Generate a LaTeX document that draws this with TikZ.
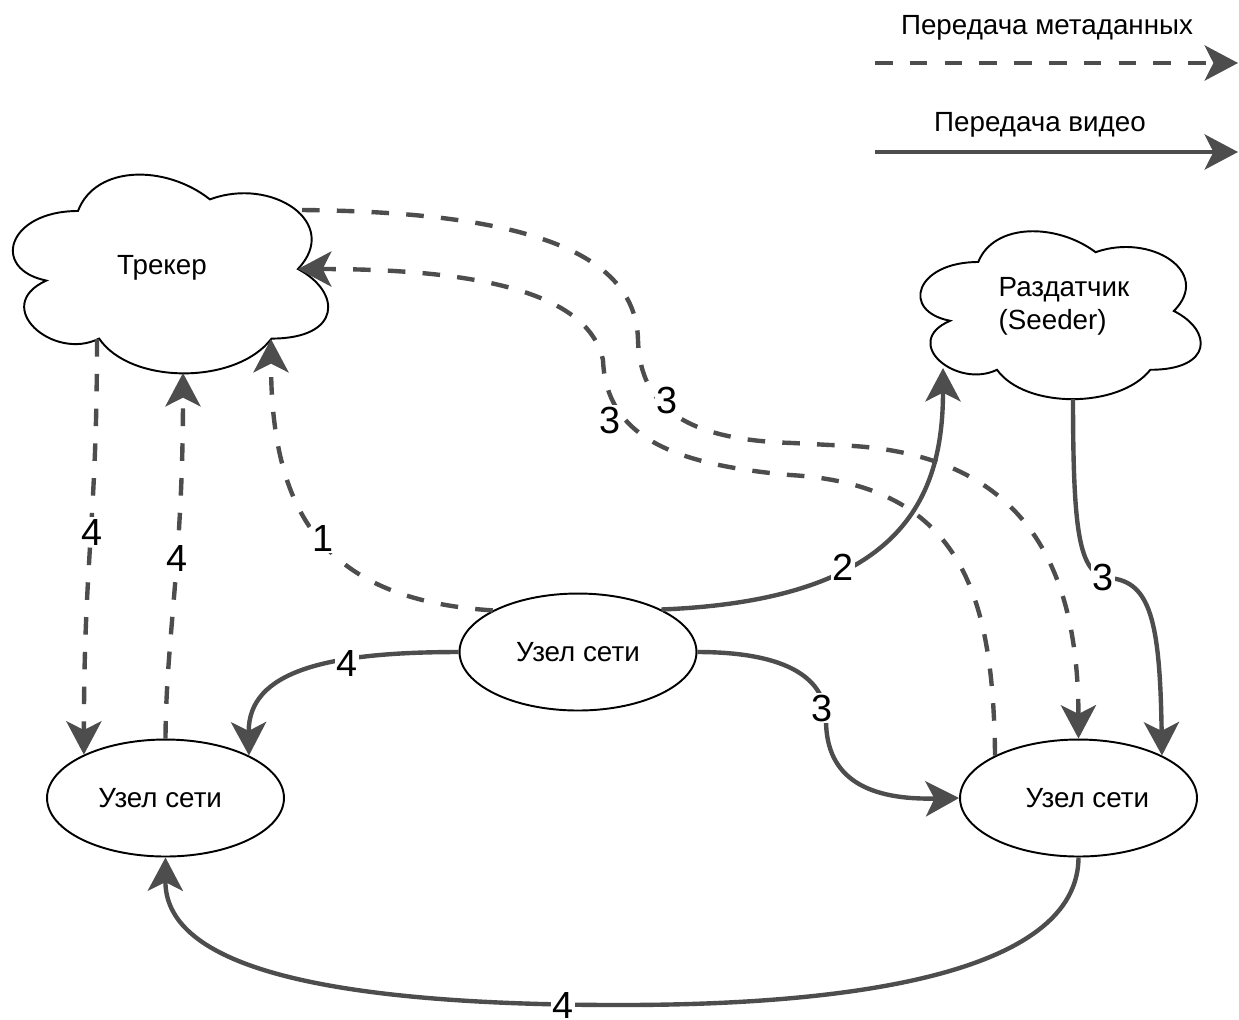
\documentclass[tikz,border=0pt]{standalone}
\usepackage{fontspec}
\setmainfont{Liberation Sans}
\usetikzlibrary{arrows.meta,shapes.geometric}
\definecolor{edgec}{HTML}{4D4D4D}
\begin{document}
\begin{tikzpicture}[x=0.02cm,y=-0.02cm,
  nodeell/.style={ellipse,draw=black,line width=1.1pt,fill=white,minimum width=4.74cm,minimum height=2.34cm,inner sep=0pt,font=\fontsize{15.8}{18.7}\selectfont},
  cloudline/.style={draw=black,line width=1.1pt,fill=white},
  txt/.style={font=\fontsize{15.8}{18.7}\selectfont,inner sep=0pt},
  conn/.style={draw=edgec,line width=2.5pt,-{Stealth[length=19pt,width=20pt,inset=5pt]}},
  meta/.style={conn,dash pattern=on 10pt off 9.8pt},
  video/.style={conn},
  num/.style={fill=white,inner sep=1pt,font=\fontsize{21.5}{25}\selectfont}
]
\fill[white] (0,0) rectangle (1239,1019);
\useasboundingbox (0,0) rectangle (1239,1019);

% legend
\node[txt] (lgm) at (1047,28) {Передача метаданных};
\coordinate (lgmA) at (875,63);
\coordinate (lgmB) at (1238,63);
\draw[meta] (lgmA) -- (lgmB);
\node[txt] (lgv) at (1040,125) {Передача видео};
\coordinate (lgvA) at (875,152);
\coordinate (lgvB) at (1238,152);
\draw[video] (lgvA) -- (lgvB);

% clouds
\begin{scope}[shift={(-10,153)},x=7.04cm,y=-4.64cm]
  \path[cloudline] (0.25,0.25) .. controls (0.05,0.25) and (0,0.5) .. (0.16,0.55)
    .. controls (0,0.66) and (0.18,0.9) .. (0.31,0.8)
    .. controls (0.4,1) and (0.7,1) .. (0.8,0.8)
    .. controls (1,0.8) and (1,0.6) .. (0.875,0.5)
    .. controls (1,0.3) and (0.8,0.1) .. (0.625,0.2)
    .. controls (0.5,0.05) and (0.3,0.05) .. (0.25,0.25) -- cycle;
\end{scope}
\begin{scope}[shift={(900,213)},x=6.26cm,y=-3.92cm]
  \path[cloudline] (0.25,0.25) .. controls (0.05,0.25) and (0,0.5) .. (0.16,0.55)
    .. controls (0,0.66) and (0.18,0.9) .. (0.31,0.8)
    .. controls (0.4,1) and (0.7,1) .. (0.8,0.8)
    .. controls (1,0.8) and (1,0.6) .. (0.875,0.5)
    .. controls (1,0.3) and (0.8,0.1) .. (0.625,0.2)
    .. controls (0.5,0.05) and (0.3,0.05) .. (0.25,0.25) -- cycle;
\end{scope}
\node[txt] (trk) at (162,268) {Трекер};
\node[txt,align=left] (sd) at (1064,306) {Раздатчик\\(Seeder)};

% nodes
\node[nodeell] (c) at (578,652) {Узел сети};
\node[nodeell] (l) at (165.5,798) {\hspace*{-6pt}Узел сети};
\node[nodeell] (r) at (1078.5,798) {\hspace*{10pt}Узел сети};

% contact points on clouds
\coordinate (trkA) at (302,210);
\coordinate (trkB) at (298,269);
\coordinate (trkC) at (271,339);
\coordinate (trkD) at (97,339);
\coordinate (trkE) at (183,373);
\coordinate (sdA) at (943,368);
\coordinate (sdB) at (1073,399);

% edges
\draw[meta] (c.154.4) .. controls (330,600) and (271,520) .. (trkC);
\draw[video] (c.27.2) .. controls (900,600) and (943,500) .. (sdA);
\draw[meta] (trkA) .. controls (520,212) and (636,250) .. (638,340)
   .. controls (640,410) and (690,440) .. (793,443) -- (830,445)
   .. controls (1020,448) and (1078,560) .. (r.north);
\draw[meta] (r.153.6) .. controls (993,600) and (965,485) .. (790,475)
   .. controls (680,465) and (606,440) .. (603,360)
   .. controls (590,300) and (500,269) .. (trkB);
\draw[video] (sdB) .. controls (1073,540) and (1080,575) .. (1110,578)
   .. controls (1150,582) and (1160,620) .. (r.27.5);
\draw[video] (c.east) .. controls (790,652) and (826,680) .. (826,720)
   .. controls (826,780) and (870,800) .. (r.west);
\draw[video] (c.west) .. controls (330,652) and (248,670) .. (l.27);
\draw[meta] (trkD) .. controls (97,520) and (84,560) .. (l.152.5);
\draw[meta] (l.north) .. controls (166,640) and (183,560) .. (trkE);
\draw[video] (r.south) .. controls (1078,960) and (900,1005) .. (620,1005)
   .. controls (300,1005) and (165,960) .. (l.south);

% labels
\node[num] (n1) at (323,538) {1};
\node[num] (n2) at (843,567) {2};
\node[num] (n3a) at (667,400) {3};
\node[num] (n3b) at (610,420) {3};
\node[num] (n3s) at (1103,577) {3};
\node[num] (n3c) at (822,708) {3};
\node[num] (n4a) at (92,532) {4};
\node[num] (n4b) at (177,558) {4};
\node[num] (n4c) at (347,663) {4};
\node[num] (n4d) at (563,1005) {4};
\end{tikzpicture}
\end{document}
